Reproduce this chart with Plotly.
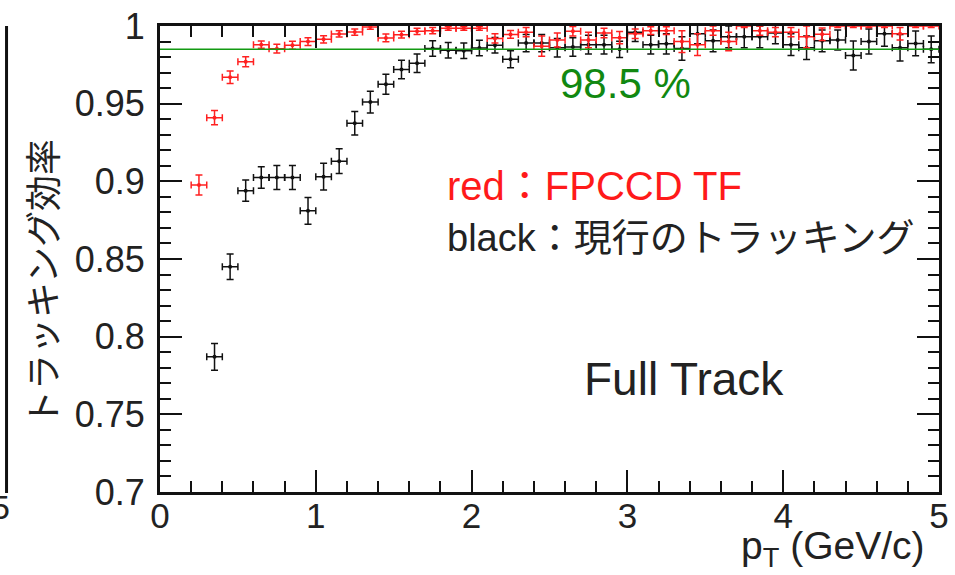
import plotly.graph_objects as go

# ---------------- data ----------------
pt_red = [0.25, 0.35, 0.45, 0.55, 0.65, 0.75, 0.85, 0.95, 1.05, 1.15, 1.25, 1.35,
          1.45, 1.55, 1.65, 1.75, 1.85, 1.95, 2.05, 2.15, 2.25, 2.35, 2.45, 2.55,
          2.65, 2.75, 2.85, 2.95, 3.05, 3.15, 3.25, 3.35, 3.45, 3.55, 3.65, 3.75,
          3.85, 3.95, 4.05, 4.15, 4.25, 4.35, 4.45, 4.55, 4.65, 4.75, 4.85, 4.95]
eff_red = [0.8976, 0.941, 0.967, 0.977, 0.988, 0.9854, 0.9876, 0.990, 0.9914, 0.9949, 0.9961, 0.9994,
           0.9923, 0.9944, 0.9966, 0.997, 0.9985, 0.9985, 0.9985, 0.992, 0.9946, 0.996, 0.987, 0.991,
           0.9966, 0.991, 0.9955, 0.9925, 0.995, 0.997, 0.997, 0.990, 0.988, 0.997, 0.990, 1.0,
           0.997, 0.996, 0.996, 0.993, 0.9947, 1.0, 1.0, 1.0, 1.0, 0.995, 1.0, 1.0]
err_red = [0.0064, 0.0046, 0.004, 0.0032, 0.0024, 0.0028, 0.0026, 0.0025, 0.0024, 0.002, 0.002, 0.0015,
           0.0025, 0.0022, 0.002, 0.002, 0.0012, 0.0012, 0.0012, 0.003, 0.0025, 0.003, 0.0065, 0.0045,
           0.003, 0.005, 0.003, 0.004, 0.003, 0.0025, 0.0025, 0.007, 0.007, 0.003, 0.006, 0.001,
           0.003, 0.003, 0.003, 0.007, 0.004, 0.001, 0.001, 0.001, 0.001, 0.004, 0.001, 0.001]

pt_black = [0.35, 0.45, 0.55, 0.65, 0.75, 0.85, 0.95, 1.05, 1.15, 1.25, 1.35, 1.45,
            1.55, 1.65, 1.75, 1.85, 1.95, 2.05, 2.15, 2.25, 2.35, 2.45, 2.55, 2.65,
            2.75, 2.85, 2.95, 3.05, 3.15, 3.25, 3.35, 3.45, 3.55, 3.65, 3.75, 3.85,
            3.95, 4.05, 4.15, 4.25, 4.35, 4.45, 4.55, 4.65, 4.75, 4.85, 4.95]
eff_black = [0.787, 0.845, 0.894, 0.9025, 0.9025, 0.9025, 0.881, 0.903, 0.913, 0.9374, 0.951, 0.9625,
             0.972, 0.976, 0.9855, 0.9844, 0.984, 0.9859, 0.9876, 0.9786, 0.989, 0.989, 0.986, 0.9865,
             0.988, 0.988, 0.985, 0.996, 0.988, 0.9885, 0.9855, 0.995, 0.9905, 0.993, 0.993, 0.993,
             0.9955, 0.988, 0.986, 0.9905, 0.991, 0.981, 0.990, 0.995, 0.986, 0.9888, 0.985]
err_black = [0.0086, 0.0082, 0.0069, 0.0069, 0.0077, 0.0077, 0.0086, 0.0086, 0.008, 0.0075, 0.007, 0.0065,
             0.006, 0.006, 0.005, 0.005, 0.005, 0.005, 0.005, 0.0054, 0.0055, 0.0055, 0.006, 0.006,
             0.006, 0.006, 0.0052, 0.006, 0.006, 0.0065, 0.0075, 0.0065, 0.007, 0.007, 0.007, 0.007,
             0.007, 0.007, 0.0075, 0.007, 0.0065, 0.0093, 0.008, 0.008, 0.0086, 0.008, 0.0086]

bin_half_width = 0.05
threshold = 0.985

y_tickvals = [0.7, 0.75, 0.8, 0.85, 0.9, 0.95, 1.0]
y_ticktext = ["0.7", "0.75", "0.8", "0.85", "0.9", "0.95", "1"]
x_tickvals = [0, 1, 2, 3, 4, 5]
x_ticktext = ["0", "1", "2", "3", "4", "5"]

# ---------------- figure ----------------
fig = go.Figure()

def add_series(x, y, err, color):
    fig.add_trace(go.Scatter(
        x=x, y=y, mode="markers",
        marker=dict(color=color, size=4),
        error_x=dict(type="constant", value=bin_half_width, color=color, thickness=1.5, width=3.5),
        error_y=dict(type="data", array=err, color=color, thickness=1.5, width=3.5),
        showlegend=False, cliponaxis=True,
    ))

add_series(pt_black, eff_black, err_black, "#111111")
add_series(pt_red, eff_red, err_red, "#ff2020")

fig.add_shape(type="line", xref="x", yref="y", x0=0, x1=5, y0=threshold, y1=threshold,
              line=dict(color="#139a13", width=1.5), layer="above")

text_col = "#222222"
latin = "Liberation Sans, Arial, Noto Sans CJK JP"

fig.add_annotation(x=2.985, y=0.9633, xref="x", yref="y", text="98.5 %", showarrow=False,
                   font=dict(family=latin, size=42, color="#118811"), xanchor="center", yanchor="middle")
fig.add_annotation(x=1.83, y=0.897, xref="x", yref="y", text="red：FPCCD TF", showarrow=False,
                   font=dict(family=latin, size=40, color="#ff1a1a"), xanchor="left", yanchor="middle")
fig.add_annotation(x=1.83, y=0.8637, xref="x", yref="y", text="black：現行のトラッキング", showarrow=False,
                   font=dict(family=latin, size=38, color=text_col), xanchor="left", yanchor="middle")
fig.add_annotation(x=3.365, y=0.773, xref="x", yref="y", text="Full Track", showarrow=False,
                   font=dict(family=latin, size=46, color=text_col), xanchor="center", yanchor="middle")

# axis titles
fig.add_annotation(x=-0.152, y=0.45, xref="paper", yref="paper", text="トラッキング効率",
                   textangle=-90, showarrow=False,
                   font=dict(family="Noto Sans CJK JP", size=36, color=text_col),
                   xanchor="center", yanchor="middle")
fig.add_annotation(x=0.985, y=-0.122, xref="paper", yref="paper", text="p<sub>T</sub> (GeV/c)",
                   showarrow=False, font=dict(family=latin, size=39, color=text_col),
                   xanchor="right", yanchor="middle")

# leftover neighbouring-panel frame edge at the far left
fig.add_shape(type="line", xref="paper", yref="paper", x0=-0.197, x1=-0.197, y0=-0.002, y1=1.0,
              line=dict(color="#111111", width=3))
fig.add_annotation(x=-0.19, y=-0.032, xref="paper", yref="paper", text="5", showarrow=False,
                   font=dict(family=latin, size=34, color=text_col), xanchor="right", yanchor="middle")

fig.update_xaxes(range=[0, 5], tickmode="array", tickvals=x_tickvals, ticktext=x_ticktext,
                 showline=True, linewidth=3, linecolor="#111111", mirror="allticks",
                 ticks="inside", ticklen=22, tickwidth=1.5, tickcolor="#111111",
                 minor=dict(tickmode="linear", tick0=0, dtick=0.2, ticks="inside", ticklen=11,
                            tickwidth=1.5, tickcolor="#111111", showgrid=False),
                 showgrid=False, zeroline=False, ticklabelstandoff=-9, ticklabeloverflow="allow",
                 tickfont=dict(family=latin, size=35, color=text_col))
fig.update_yaxes(range=[0.7, 1.0], tickmode="array", tickvals=y_tickvals, ticktext=y_ticktext,
                 showline=True, linewidth=3, linecolor="#111111", mirror="allticks",
                 ticks="inside", ticklen=22, tickwidth=1.5, tickcolor="#111111",
                 minor=dict(tickmode="linear", tick0=0.7, dtick=0.01, ticks="inside", ticklen=11,
                            tickwidth=1.5, tickcolor="#111111", showgrid=False),
                 showgrid=False, zeroline=False, ticklabelstandoff=5, ticklabeloverflow="allow",
                 tickfont=dict(family=latin, size=36, color=text_col))

fig.update_layout(width=955, height=575, margin=dict(l=160, r=6, t=23, b=83),
                  paper_bgcolor="white", plot_bgcolor="white", showlegend=False)

fig.write_html("out.html")
